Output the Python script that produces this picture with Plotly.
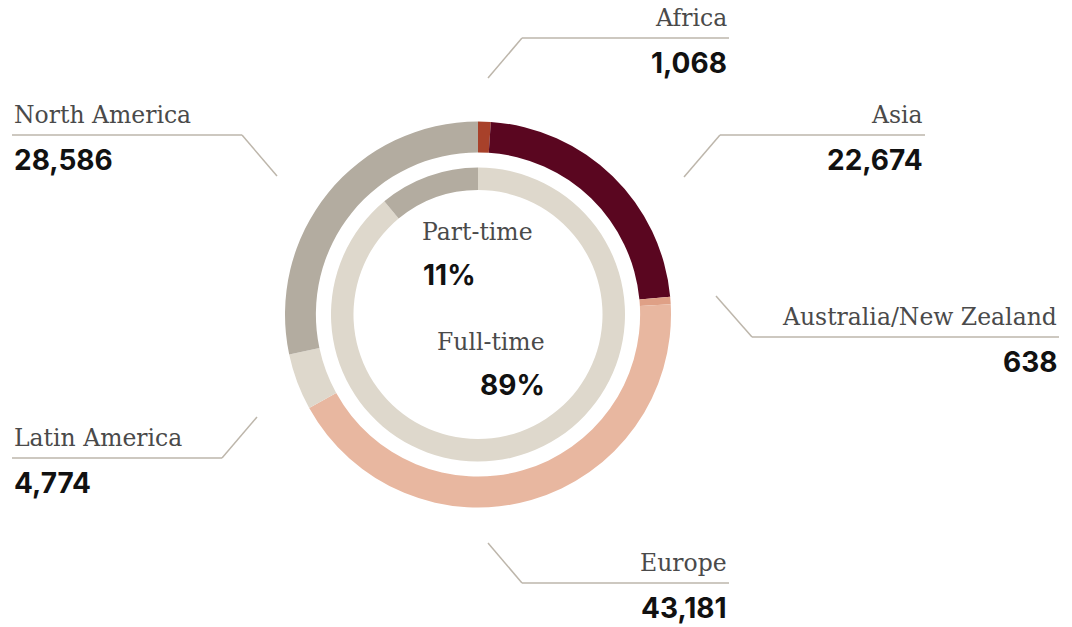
import plotly.graph_objects as go

# Data
regions = ["Africa", "Asia", "Australia/New Zealand", "Europe", "Latin America", "North America"]
staff = [1068, 22674, 638, 43181, 4774, 28586]
region_colors = ["#A8412A", "#5A0620", "#DFA086", "#E8B7A0", "#DED8CC", "#B3ACA0"]

contract = ["Full-time", "Part-time"]
contract_share = [89, 11]
contract_colors = ["#DED8CC", "#B3ACA0"]

W, H = 1072, 627
LINE = "#BDB6AB"
SERIF = "DejaVu Serif"
SANS = "Inter"
LABEL_FONT = dict(family=SERIF, size=23.5, color="#4a4a4a")
VALUE_FONT = dict(family=SANS, size=28, color="#111111")

def px(x):
    return x / W

def py(y):
    return 1 - y / H

fig = go.Figure()

# outer ring: regions
fig.add_trace(go.Pie(
    labels=regions, values=staff, hole=0.84, sort=False, direction="clockwise",
    rotation=0, marker=dict(colors=region_colors, line=dict(width=0)),
    textinfo="none", hoverinfo="label+value",
    domain=dict(x=[px(285), px(671)], y=[py(507.5), py(121.5)]),
))

# inner ring: full/part-time
fig.add_trace(go.Pie(
    labels=contract, values=contract_share, hole=0.847, sort=False, direction="clockwise",
    rotation=0, marker=dict(colors=contract_colors, line=dict(width=0)),
    textinfo="none", hoverinfo="label+percent",
    domain=dict(x=[px(331), px(625)], y=[py(461.5), py(167.5)]),
))

# leader lines: (label side x, line y, corner x, tip x, tip y)
leaders = {
    "Africa": (729, 38, 522, 488, 78),
    "Asia": (925, 135, 720, 684, 177),
    "Australia/New Zealand": (1059, 337, 752, 716, 296),
    "Europe": (729, 583, 522, 488, 543),
    "Latin America": (12, 458, 222, 257, 417),
    "North America": (12, 135, 242, 277, 176),
}

for name, value in zip(regions, staff):
    xe, yl, xc, xt, yt = leaders[name]
    fig.add_shape(type="line", xref="paper", yref="paper",
                  x0=px(xe), y0=py(yl), x1=px(xc), y1=py(yl),
                  line=dict(color=LINE, width=1.5))
    fig.add_shape(type="line", xref="paper", yref="paper",
                  x0=px(xc), y0=py(yl), x1=px(xt), y1=py(yt),
                  line=dict(color=LINE, width=1.5))
    anchor = "left" if xe < 400 else "right"
    fig.add_annotation(x=px(xe), y=py(yl - 20), xref="paper", yref="paper",
                       text=name, showarrow=False, xanchor=anchor, yanchor="middle",
                       font=LABEL_FONT)
    fig.add_annotation(x=px(xe), y=py(yl + 25), xref="paper", yref="paper",
                       text=f"<b>{value:,}</b>", showarrow=False, xanchor=anchor, yanchor="middle",
                       font=VALUE_FONT)

# centre labels
fig.add_annotation(x=px(420), y=py(232), xref="paper", yref="paper", text="Part-time",
                   showarrow=False, xanchor="left", yanchor="middle", font=LABEL_FONT)
fig.add_annotation(x=px(421), y=py(275), xref="paper", yref="paper",
                   text=f"<b>{contract_share[1]}%</b>", showarrow=False,
                   xanchor="left", yanchor="middle", font=VALUE_FONT)
fig.add_annotation(x=px(547), y=py(342), xref="paper", yref="paper", text="Full-time",
                   showarrow=False, xanchor="right", yanchor="middle", font=LABEL_FONT)
fig.add_annotation(x=px(547), y=py(385), xref="paper", yref="paper",
                   text=f"<b>{contract_share[0]}%</b>", showarrow=False,
                   xanchor="right", yanchor="middle", font=VALUE_FONT)

fig.update_layout(width=W, height=H, margin=dict(l=0, r=0, t=0, b=0),
                  showlegend=False, paper_bgcolor="white", plot_bgcolor="white")

# drop the page's default body margin so the figure sits at the window corner
fig.write_html("out.html", config={"displayModeBar": False},
               post_script="document.body.style.margin='0';")
